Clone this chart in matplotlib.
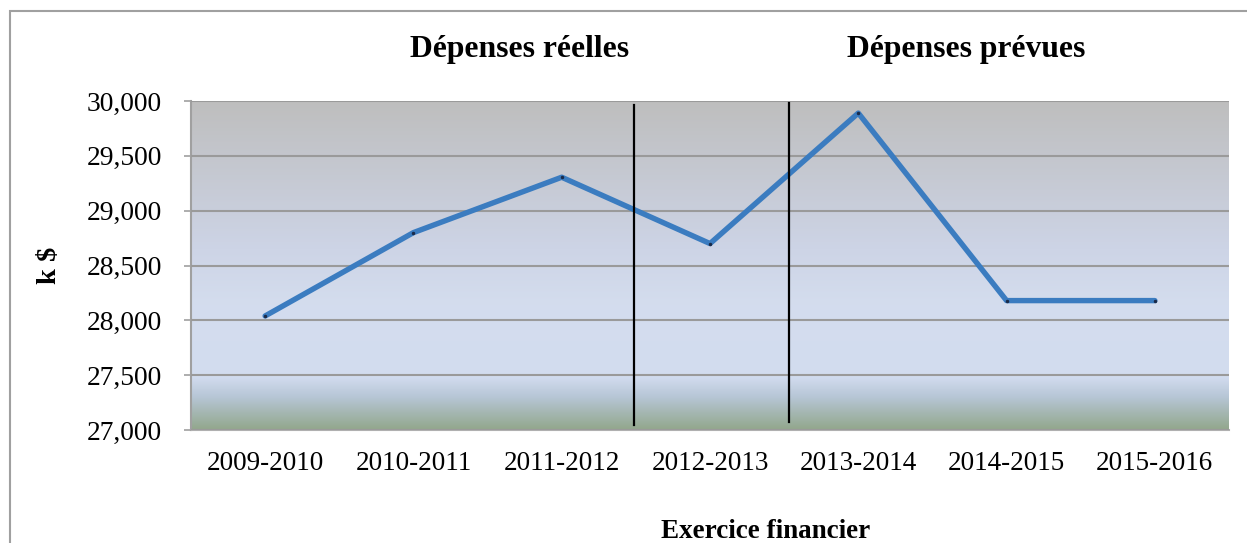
import numpy as np
import matplotlib.pyplot as plt
from matplotlib.colors import LinearSegmentedColormap
from matplotlib.patches import Rectangle

# Données
exercices = ["2009-2010", "2010-2011", "2011-2012", "2012-2013",
             "2013-2014", "2014-2015", "2015-2016"]
depenses = [28040, 28800, 29305, 28700, 29890, 28180, 28180]
y_ticks = [27000, 27500, 28000, 28500, 29000, 29500, 30000]
sections = ["Dépenses réelles", "Dépenses prévues"]

plt.rcParams['font.family'] = ['Liberation Serif', 'DejaVu Serif']

W, H = 1247, 543
fig = plt.figure(figsize=(W / 100, H / 100), dpi=100)

# cadre extérieur (gris), seulement haut et gauche visibles
fig.patches.append(Rectangle((10 / W, -0.1), 1.2, 1.1 - 11 / H, transform=fig.transFigure,
                             fill=False, edgecolor="#a0a0a0", lw=1.5))

ax = fig.add_axes([191 / W, 113 / H, 1038 / W, 329 / H])

# fond en dégradé : gris -> bleu clair -> vert grisé
cmap = LinearSegmentedColormap.from_list("fond", [
    (0.0, "#bebebe"), (0.45, "#cdd4e6"), (0.62, "#d4ddee"),
    (0.84, "#d2dcef"), (0.90, "#b7c6d6"), (1.0, "#92a78c")])
grad = np.linspace(0, 1, 256).reshape(-1, 1)
ax.imshow(grad, cmap=cmap, aspect="auto", extent=[0, 1, 0, 1],
          transform=ax.transAxes, zorder=0)

x = np.arange(len(exercices))
ax.plot(x, depenses, color="#3b7cc0", lw=3.9, solid_capstyle="round",
        solid_joinstyle="round", zorder=3,
        marker="o", markersize=1.5, markerfacecolor="#1a2b4a", markeredgecolor="#1a2b4a")

# séparateurs réelles / prévues
ax.axvline(2.49, ymin=0.015, ymax=0.989, color="black", lw=1.6, zorder=4)
ax.axvline(3.53, ymin=0.023, ymax=0.994, color="black", lw=1.6, zorder=4)

ax.set_xlim(-0.5, len(exercices) - 0.5)
ax.set_ylim(27000, 30000)
ax.set_yticks(y_ticks)
ax.set_yticklabels([f"{v:,}" for v in y_ticks])
ax.set_xticks(x)
ax.set_xticklabels(exercices)
ax.yaxis.grid(True, color="#9a9a9a", lw=1.5, zorder=1)
ax.set_axisbelow(False)
for gl in ax.get_ygridlines():
    gl.set_zorder(1)

ax.tick_params(axis="y", length=5, width=1.2, color="#a0a0a0", pad=16, labelsize=19.8)
ax.tick_params(axis="x", length=0, pad=15, labelsize=19.5)
for s in ["top", "right"]:
    ax.spines[s].set_visible(False)
ax.spines["left"].set_color("#a0a0a0")
ax.spines["left"].set_linewidth(1.5)
ax.spines["bottom"].set_color("#b0b0b0")
ax.spines["bottom"].set_linewidth(1.5)

ax.set_ylabel("k $", fontsize=20.5, fontweight="bold")
ax.yaxis.set_label_coords((62 - 191) / 1038, 0.5)
ax.set_xlabel("Exercice financier", fontsize=19.5, fontweight="bold")
ax.xaxis.set_label_coords((766 - 191) / 1038, (430 - 531) / 329)
ax.xaxis.label.set_va("center")

fig.text(520 / W, 1 - 49 / H, sections[0], ha="center", va="center",
         fontsize=22.8, fontweight="bold")
fig.text(966 / W, 1 - 49 / H, sections[1], ha="center", va="center",
         fontsize=22.8, fontweight="bold")

fig.savefig("out.png", dpi=100)
